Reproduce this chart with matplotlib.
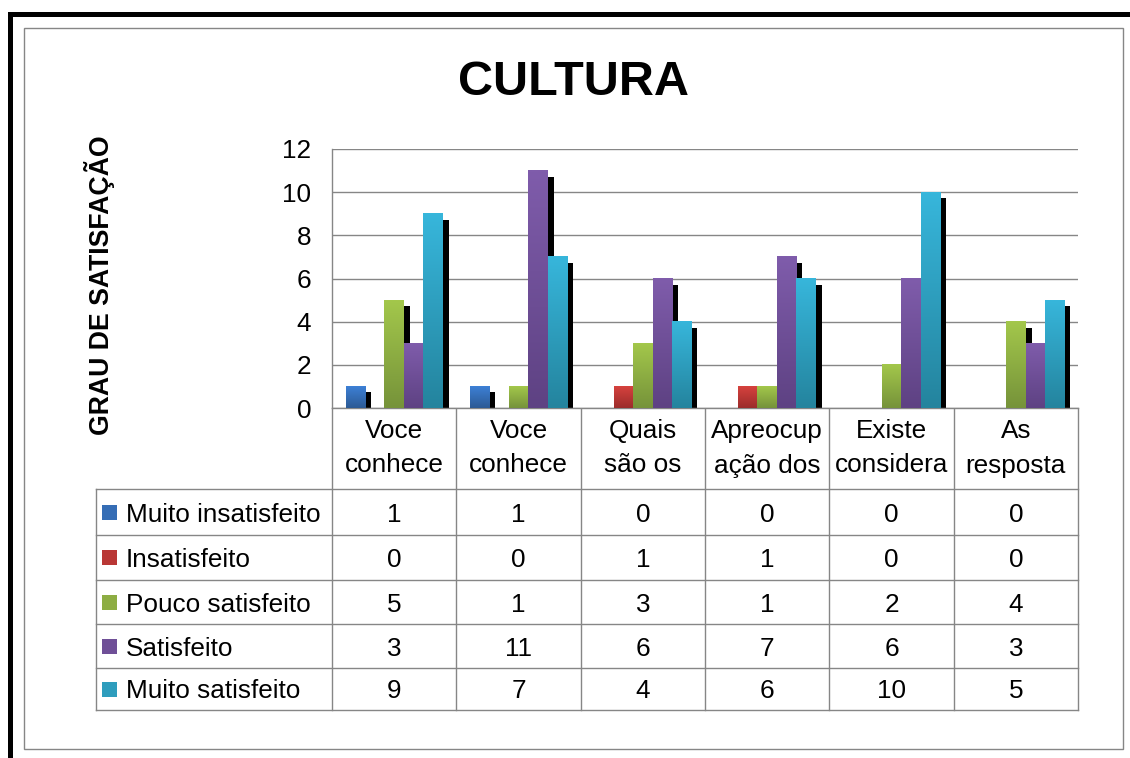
import numpy as np
import matplotlib
matplotlib.use('Agg')
import matplotlib.pyplot as plt
from matplotlib import transforms
from matplotlib.colors import to_rgb
from matplotlib.patches import Rectangle

plt.rcParams['font.family'] = ['Liberation Sans', 'DejaVu Sans']

# data
categories = ['Voce\nconhece', 'Voce\nconhece', 'Quais\nsão os',
              'Apreocup\nação dos', 'Existe\nconsidera', 'As\nresposta']
series_names = ['Muito insatisfeito', 'Insatisfeito', 'Pouco satisfeito',
                'Satisfeito', 'Muito satisfeito']
muito_insatisfeito = [1, 1, 0, 0, 0, 0]
insatisfeito = [0, 0, 1, 1, 0, 0]
pouco_satisfeito = [5, 1, 3, 1, 2, 4]
satisfeito = [3, 11, 6, 7, 6, 3]
muito_satisfeito = [9, 7, 4, 6, 10, 5]
series = [muito_insatisfeito, insatisfeito, pouco_satisfeito, satisfeito, muito_satisfeito]
yticks = [0, 2, 4, 6, 8, 10, 12]

# gradient colours (top, bottom)
tops = ['#3d80d6', '#d6423e', '#a3c74b', '#7f5cab', '#37b6db']
bots = ['#2c5a94', '#9c2c2b', '#76933a', '#5e4283', '#24849e']
grey = '#868686'
fs = 18.8

W, H = 1130, 758
fig = plt.figure(figsize=(W / 100, H / 100), dpi=100)

# overlay in pixel coordinates for frame and data table
ov = fig.add_axes([0, 0, 1, 1])
ov.set_xlim(0, W)
ov.set_ylim(H, 0)
ov.axis('off')

# plot area
left, right, top, bottom = 332, 1078, 149, 408
ax = fig.add_axes([left / W, 1 - bottom / H, (right - left) / W, (bottom - top) / H])

n = len(categories)
x = np.arange(n)
w = 0.156
shadow = ax.transData + transforms.ScaledTranslation(6 / 100, -6 / 100, fig.dpi_scale_trans)

for i, vals in enumerate(series):
    xs = x + (i - 2) * w
    ct, cb = np.array(to_rgb(tops[i])), np.array(to_rgb(bots[i]))
    ax.bar(xs, vals, w, color='black', transform=shadow, zorder=2, linewidth=0)
    bars = ax.bar(xs, vals, w, color=(ct + cb) / 2, zorder=3, linewidth=0)
    t = np.linspace(0, 1, 64)[:, None, None]
    img = ct[None, None, :] * (1 - t) + cb[None, None, :] * t
    for b, v in zip(bars, vals):
        if v <= 0:
            continue
        ax.imshow(img, extent=(b.get_x(), b.get_x() + w, 0, v), aspect='auto',
                  zorder=3.5, interpolation='bilinear')

ax.set_xlim(-0.5, n - 0.5)
ax.set_ylim(0, 12)
ax.set_yticks(yticks)
ax.set_xticks([])
ax.yaxis.grid(True, color=grey, linewidth=1)
ax.set_axisbelow(True)
for s in ['top', 'right']:
    ax.spines[s].set_visible(False)
for s in ['left', 'bottom']:
    ax.spines[s].set_color(grey)
    ax.spines[s].set_linewidth(1)
ax.tick_params(axis='y', length=0, pad=15, labelsize=fs)

# title and y label
fig.text(573 / W, 1 - 95 / H, 'CULTURA', fontsize=35, fontweight='bold', ha='center', va='baseline')
fig.text(100 / W, 1 - 285 / H, 'GRAU DE SATISFAÇÃO', rotation=90, fontsize=19.2,
         fontweight='bold', ha='center', va='center')

# outer frame
ov.add_patch(Rectangle((8, 12), W - 8, 5, color='black', lw=0))
ov.add_patch(Rectangle((8, 12), 5, H - 12, color='black', lw=0))
ov.add_patch(Rectangle((23.5, 27.5), 1099, 721.5, fill=False, ec=grey, lw=1))

# data table
col_x = np.linspace(left, right, n + 1)
row_y = [489, 535, 580, 624, 668, 710]
for yy in row_y:
    ov.plot([96, right], [yy, yy], color=grey, lw=1)
for xx in col_x:
    ov.plot([xx, xx], [bottom, row_y[-1]], color=grey, lw=1)
ov.plot([96, 96], [row_y[0], row_y[-1]], color=grey, lw=1)

cx = (col_x[:-1] + col_x[1:]) / 2
for j, cat in enumerate(categories):
    for k, line in enumerate(cat.split('\n')):
        ov.text(cx[j], 438 + k * 34.5, line, ha='center', va='baseline', fontsize=fs)

for r, (name, vals) in enumerate(zip(series_names, series)):
    cy = (row_y[r] + row_y[r + 1]) / 2
    ct, cb = np.array(to_rgb(tops[r])), np.array(to_rgb(bots[r]))
    ov.add_patch(Rectangle((102, cy - 7.5), 15, 15, color=(ct + cb) / 2, lw=0))
    ov.text(126, cy, name, ha='left', va='center_baseline', fontsize=fs)
    for j, v in enumerate(vals):
        ov.text(cx[j], cy, str(v), ha='center', va='center_baseline', fontsize=fs)

fig.savefig('out.png', dpi=100)
